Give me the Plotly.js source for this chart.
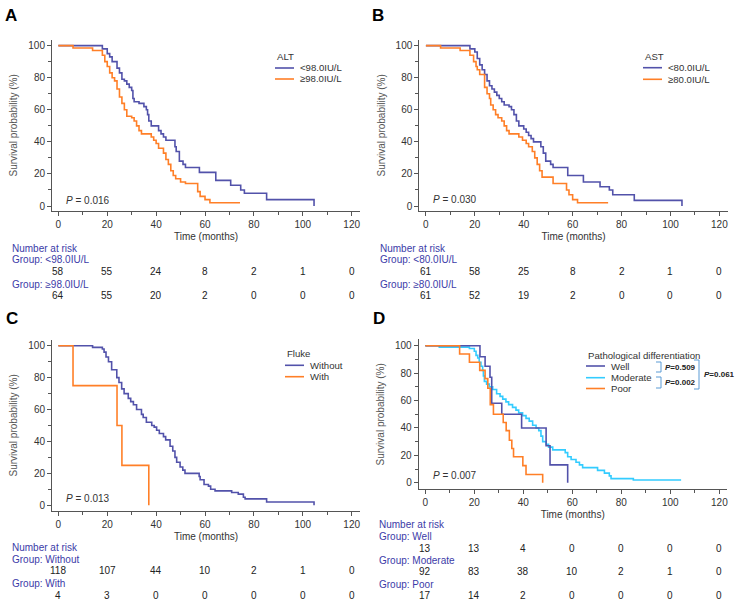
<!DOCTYPE html>
<html><head><meta charset="utf-8">
<script src="https://cdn.plot.ly/plotly-3.0.1.min.js"></script>
<style>html,body{margin:0;padding:0;background:#fff}</style>
</head><body><div id="chart" style="width:752px;height:600px"></div>
<script>
// ---------- data ----------
const riskTimes = [0, 20, 40, 60, 80, 100, 120];

// Panel A: ALT
const altLowT  = [0, 18, 20, 21, 22, 24, 25, 26, 27, 28, 29, 30, 30.5, 31, 33, 35, 36, 36.5, 37, 38, 41, 42, 43, 44, 47.7, 48.2, 49.5, 51, 52, 57.7, 64.4, 70.5, 74.6, 76.1, 85.2, 104.6];
const altLowS  = [100, 98, 95, 93, 90, 86, 83, 79, 78, 76, 74, 72, 67, 65, 64, 62, 60, 57, 53, 50, 47, 45, 43, 41, 37, 34, 28, 26, 24, 21, 16, 13, 10, 8, 4, 0];
const altHighT = [0, 6, 14, 18, 19, 20, 21, 22, 23, 24, 25, 26, 27, 28, 30, 31, 32, 33, 34, 38, 39, 40, 41, 43, 44, 45, 46, 47, 48, 50, 52, 57, 58, 60, 62, 74.3];
const altHighS = [100, 98.5, 97, 94, 90, 87, 83, 80, 78, 73, 68, 64, 60, 56, 55, 53, 50, 47, 45, 43, 41, 39, 36, 33, 29, 26, 22, 19, 17, 15, 14, 9, 6, 4, 2, 2];

// Panel B: AST
const astLowT  = [0, 18, 20, 21, 22, 23, 24, 25, 26, 27, 28, 29, 30, 31, 32, 34, 35, 36, 37, 38, 40, 41, 42, 43, 44, 47, 48, 49, 51, 52, 58, 64.4, 71.2, 75, 76.4, 85.2, 104.7];
const astLowS  = [100, 98, 96, 92, 88, 85, 82, 78, 75, 73, 71, 69, 67, 65, 63, 62, 60, 57, 53, 50, 48, 46, 44, 42, 40, 37, 33, 28, 26, 24, 19, 15, 12, 10, 7, 3.5, 0];
const astHighT = [0, 6, 14, 18, 19.5, 20.5, 21, 22, 24, 25, 26, 26.5, 27.5, 28.5, 29.5, 31, 32, 33, 34, 38, 39.5, 41, 42, 43.5, 44.5, 45.5, 46.5, 47.5, 52, 57.5, 58.5, 60, 62, 74.5];
const astHighS = [100, 98.5, 97, 94, 90, 87, 85, 82, 74, 70, 67, 63, 60, 57, 55, 53, 50, 47, 45, 43, 41, 39, 37, 34, 30, 26, 22, 18, 14, 10, 7, 4, 2, 2];

// Panel C: Fluke
const flukeWithoutT = [0, 14, 18, 18.7, 19.5, 20.5, 21.8, 23.9, 24.8, 25.9, 26.9, 28.6, 29.6, 30.7, 32, 34, 34.7, 36, 38.2, 39.2, 40.2, 41.3, 43, 43.9, 45.7, 46.8, 47.7, 48.4, 49.8, 50.9, 51.8, 57.6, 58, 59.6, 61.4, 62.3, 64.1, 70.9, 73.6, 75.7, 76.4, 85.2, 104.6];
const flukeWithoutS = [100, 99, 98, 96, 93, 90, 85, 80, 77, 73, 70, 67, 65, 63, 60, 57, 55, 52, 50, 49, 47, 45, 43, 41, 37, 34, 30, 27, 24, 22, 20, 18, 16, 13, 12, 10, 9, 8, 7, 5, 4, 2, 0];
const flukeWithT = [0, 6, 24, 26, 37];
const flukeWithS = [100, 75, 50, 25, 0];

// Panel D: Pathological differentiation
const wellT = [0, 22.3, 24.4, 26.4, 27.1, 31.2, 39.3, 49.3, 50.9, 58.1];
const wellS = [100, 92, 85, 77, 58, 50, 40, 27, 13, 0];
const moderateT = [0, 5.7, 18, 20, 20.7, 21.4, 22, 22.7, 23.4, 23.7, 24.1, 25, 26.1, 27.5, 29.1, 30.5, 31.6, 32.9, 34, 35.6, 37, 38.1, 39.7, 41.1, 42.4, 43.8, 45.2, 46.3, 47.2, 47.9, 49.3, 50.3, 52, 57.1, 58.1, 59.5, 61.5, 62.9, 64.2, 70.3, 73.1, 75.1, 75.8, 84.9, 104.4];
const moderateS = [100, 99, 98, 96, 93, 91, 88, 85, 82, 78, 74, 72, 70, 68, 65, 63, 61, 59, 57, 55, 53, 51, 49, 47, 45, 42, 40, 38, 34, 30, 28, 26, 24, 22, 19, 17, 15, 13, 11, 9, 7, 5, 3, 2, 2];
const poorT = [0, 14, 18, 22.2, 24.4, 25.5, 26.5, 27.8, 31.8, 33, 34.3, 35.3, 36, 39.8, 41.1, 47.9];
const poorS = [100, 94, 88, 82, 76, 69, 57, 50, 44, 38, 31, 25, 19, 12.5, 6, 0];

// Number at risk
const altRiskLow  = [58, 55, 24, 8, 2, 1, 0];
const altRiskHigh = [64, 55, 20, 2, 0, 0, 0];
const astRiskLow  = [61, 58, 25, 8, 2, 1, 0];
const astRiskHigh = [61, 52, 19, 2, 0, 0, 0];
const flukeRiskWithout = [118, 107, 44, 10, 2, 1, 0];
const flukeRiskWith    = [4, 3, 0, 0, 0, 0, 0];
const pdRiskWell     = [13, 13, 4, 0, 0, 0, 0];
const pdRiskModerate = [92, 83, 38, 10, 2, 1, 0];
const pdRiskPoor     = [17, 14, 2, 0, 0, 0, 0];

// Labels
const altNames = ['&lt;98.0IU/L', '≥98.0IU/L'];
const astNames = ['&lt;80.0IU/L', '≥80.0IU/L'];
const flukeNames = ['Without', 'With'];
const pdNames = ['Well', 'Moderate', 'Poor'];
const pValues = ['0.016', '0.030', '0.013', '0.007'];
const pairP = ['0.509', '0.002', '0.061'];

// ---------- drawing ----------
const W = 752, H = 600;
const px = x => x / W;
const py = y => 1 - y / H;
const BLUE = '#5252aa', ORANGE = '#ff7f27', CYAN = '#33ccff', LABEL = '#3b3ba8', TXT = '#222', AX = '#555';
const FONT = 'Arial, "Liberation Sans", sans-serif';

function curve(t, s, color, name, xa, ya) {
  return {x: t, y: s, type: 'scatter', mode: 'lines', name: name,
          line: {shape: 'hv', color: color, width: 1.6}, xaxis: xa, yaxis: ya, hoverinfo: 'skip'};
}
const data = [
  curve(altLowT, altLowS, BLUE, altNames[0], 'x', 'y'),
  curve(altHighT, altHighS, ORANGE, altNames[1], 'x', 'y'),
  curve(astLowT, astLowS, BLUE, astNames[0], 'x2', 'y2'),
  curve(astHighT, astHighS, ORANGE, astNames[1], 'x2', 'y2'),
  curve(flukeWithoutT, flukeWithoutS, BLUE, flukeNames[0], 'x3', 'y3'),
  curve(flukeWithT, flukeWithS, ORANGE, flukeNames[1], 'x3', 'y3'),
  curve(moderateT, moderateS, CYAN, pdNames[1], 'x4', 'y4'),
  curve(wellT, wellS, BLUE, pdNames[0], 'x4', 'y4'),
  curve(poorT, poorS, ORANGE, pdNames[2], 'x4', 'y4')
];

function xax(l, r, anchor, range) {
  return {domain: [px(l), px(r)], anchor: anchor, range: range, tick0: 0, dtick: 20,
    ticks: 'outside', ticklen: 4, tickcolor: AX, showline: true, linecolor: AX, linewidth: 1,
    showgrid: false, zeroline: false, tickfont: {size: 10, color: '#333', family: FONT},
    minor: {ticks: 'outside', ticklen: 3, tickcolor: AX, dtick: 10, tick0: 0, showgrid: false},
    title: {text: 'Time (months)', font: {size: 10, color: '#333', family: FONT}, standoff: 3},
    automargin: false, fixedrange: true};
}
function yax(b, t, anchor, range) {
  return {domain: [py(b), py(t)], anchor: anchor, range: range, tick0: 0, dtick: 20,
    ticks: 'outside', ticklen: 4, tickcolor: AX, showline: true, linecolor: AX, linewidth: 1,
    showgrid: false, zeroline: false, tickfont: {size: 10, color: '#333', family: FONT},
    minor: {ticks: 'outside', ticklen: 3, tickcolor: AX, dtick: 10, tick0: 0, showgrid: false},
    title: {text: 'Survival probability (%)', font: {size: 10, color: '#555', family: FONT}, standoff: 8},
    automargin: false, fixedrange: true};
}

const ann = [];
const shapes = [];
function label(text, x, y, opts) {
  ann.push(Object.assign({x: px(x), y: py(y), xref: 'paper', yref: 'paper', text: text, showarrow: false,
    xanchor: 'left', yanchor: 'middle', font: {size: 10, color: '#333', family: FONT}}, opts || {}));
}
function riskRow(vals, xref, y) {
  vals.forEach((v, i) => ann.push({x: riskTimes[i], y: py(y), xref: xref, yref: 'paper', text: String(v),
    showarrow: false, xanchor: 'center', yanchor: 'middle', font: {size: 10, color: TXT, family: FONT}}));
}
function legendBlock(title, names, colors, x, yTitle, rows) {
  const lf = {size: 9.6, color: '#333', family: FONT};
  label(title, x, yTitle, {font: lf});
  names.forEach((n, i) => {
    shapes.push({type: 'line', xref: 'paper', yref: 'paper', x0: px(x), x1: px(x + 19), y0: py(rows[i]), y1: py(rows[i]),
      line: {color: colors[i], width: 1.6}});
    label(n, x + 23, rows[i], {font: lf});
  });
}

// panel letters
const letterFont = {size: 17, color: '#000', family: FONT};
label('<b>A</b>', 3, 15, {font: letterFont});
label('<b>B</b>', 370, 15, {font: letterFont});
label('<b>C</b>', 4, 318, {font: letterFont});
label('<b>D</b>', 371, 318, {font: letterFont});

// legends
legendBlock('ALT', altNames, [BLUE, ORANGE], 275, 57, [68, 79]);
legendBlock('AST', astNames, [BLUE, ORANGE], 643, 56, [67.7, 79.3]);
legendBlock('Fluke', flukeNames, [BLUE, ORANGE], 285, 353.3, [365.3, 376.7]);
legendBlock('Pathological differentiation', pdNames, [BLUE, CYAN, ORANGE], 586, 355, [366, 377.7, 388.5]);

// pairwise brackets (panel D)
const BR = '#5b9bd5';
function bracket(x0, x1, yt, yb) {
  shapes.push({type: 'path', xref: 'paper', yref: 'paper',
    path: `M ${px(x0)} ${py(yt)} L ${px(x1)} ${py(yt)} L ${px(x1)} ${py(yb)} L ${px(x0)} ${py(yb)}`,
    line: {color: BR, width: 1}});
}
bracket(656, 661, 362, 372);
bracket(656, 661, 377, 388);
bracket(694, 699, 360, 389);
const pf = {size: 8, color: '#222', family: FONT};
label('<b><i>P</i>=' + pairP[0] + '</b>', 663, 367.5, {font: pf});
label('<b><i>P</i>=' + pairP[1] + '</b>', 663, 382.5, {font: pf});
label('<b><i>P</i>=' + pairP[2] + '</b>', 702, 374.5, {font: pf});

// P values
label('<i>P</i> = ' + pValues[0], 64, 200.3);
label('<i>P</i> = ' + pValues[1], 431, 199.3);
label('<i>P</i> = ' + pValues[2], 64, 498.3);
label('<i>P</i> = ' + pValues[3], 431, 475);

// risk tables
const lb = {font: {size: 10, color: LABEL, family: FONT}};
label('Number at risk', 10, 248.3, lb);
label('Group: ' + altNames[0], 10, 259.3, lb);
riskRow(altRiskLow, 'x', 271.7);
label('Group: ' + altNames[1], 10, 284.3, lb);
riskRow(altRiskHigh, 'x', 295.7);

label('Number at risk', 378, 248.3, lb);
label('Group: ' + astNames[0], 378, 259.3, lb);
riskRow(astRiskLow, 'x2', 271.7);
label('Group: ' + astNames[1], 378, 284.3, lb);
riskRow(astRiskHigh, 'x2', 295.7);

label('Number at risk', 10, 547.7, lb);
label('Group: ' + flukeNames[0], 10, 559, lb);
riskRow(flukeRiskWithout, 'x3', 570.7);
label('Group: ' + flukeNames[1], 10, 583.3, lb);
riskRow(flukeRiskWith, 'x3', 595.3);

label('Number at risk', 377, 524.3, lb);
label('Group: ' + pdNames[0], 377, 536.7, lb);
riskRow(pdRiskWell, 'x4', 548.3);
label('Group: ' + pdNames[1], 377, 560, lb);
riskRow(pdRiskModerate, 'x4', 571.7);
label('Group: ' + pdNames[2], 377, 584.3, lb);
riskRow(pdRiskPoor, 'x4', 595.7);

const layout = {
  width: W, height: H, margin: {l: 0, r: 0, t: 0, b: 0},
  paper_bgcolor: '#fff', plot_bgcolor: '#fff', showlegend: false,
  font: {family: FONT, size: 10, color: '#333'},
  xaxis:  xax(52, 360, 'y', [-2.6, 123.4]),
  yaxis:  yax(211, 39.7, 'x', [-3.1, 103.7]),
  xaxis2: xax(419.3, 727.7, 'y2', [-2.7, 123.4]),
  yaxis2: yax(211, 39.7, 'x2', [-3.1, 103.7]),
  xaxis3: xax(52, 360, 'y3', [-2.6, 123.4]),
  yaxis3: yax(511, 339.7, 'x3', [-3.6, 103.8]),
  xaxis4: xax(418.7, 726.7, 'y4', [-2.7, 123.0]),
  yaxis4: yax(489.3, 339.3, 'x4', [-4.8, 104.7]),
  annotations: ann,
  shapes: shapes
};
Plotly.newPlot('chart', data, layout, {displayModeBar: false, staticPlot: true});
</script>
</body></html>
